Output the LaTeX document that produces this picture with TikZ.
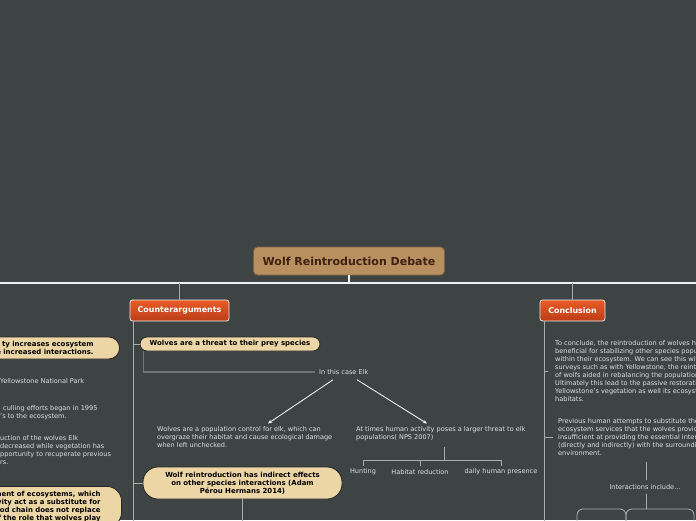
\documentclass[tikz,border=0pt]{standalone}
\usepackage{fontspec}
\setmainfont{DejaVu Sans}
\usepackage{xcolor}
\usepackage{tikz}
\usetikzlibrary{calc, positioning, arrows.meta}

\definecolor{bgdark}{RGB}{62,68,68}
\definecolor{titlefill}{RGB}{184,144,96}
\definecolor{titleline}{RGB}{125,96,62}
\definecolor{titletext}{RGB}{64,32,16}
\definecolor{topictop}{RGB}{232,92,38}
\definecolor{topicbottom}{RGB}{188,60,24}
\definecolor{pillfill}{RGB}{236,214,166}
\definecolor{notegray}{RGB}{222,224,224}
\definecolor{branchgray}{RGB}{168,172,172}
\definecolor{elkgray}{RGB}{112,118,118}

\newcommand\notefont{\fontsize{6.55}{8}\selectfont}
\newcommand\pillfont{\fontsize{6.95}{8}\selectfont\bfseries}

\begin{document}
\begin{tikzpicture}[x=1pt, y=-1pt,
		note/.style = {text=notegray, font=\notefont, inner sep=0pt, align=left},
		pill/.style = {draw=black!85, fill=pillfill, line width=0.8pt, font=\pillfont, text=black, align=center, inner sep=0pt},
		topic/.style = {draw=white!85!gray, line width=0.8pt, top color=topictop, bottom color=topicbottom, rounded corners=2.5pt, font=\fontsize{7.9}{9}\selectfont\bfseries, text=white, minimum height=21pt, inner sep=0pt},
		branch/.style = {draw=branchgray, line width=0.8pt},
		mainline/.style = {draw=white!88!gray, line width=1.3pt}]
		\def\W{696};
		\def\H{520};
		
		\useasboundingbox (0,0) rectangle (\W,\H);
		\fill[bgdark] (0,0) rectangle (\W,\H);
		\clip (0,0) rectangle (\W,\H);
		
		\coordinate (main west) at (0,283);
		\coordinate (main east) at (\W,283);
		\coordinate (counter spine) at (133,530);
		\coordinate (concl spine) at (544,530);
		\coordinate (fork top) at (444,447);
		\coordinate (fork) at (444,459.5);
		\coordinate (int top) at (646,462);
		\coordinate (int fork) at (646,509);
		
		\node[draw=titleline, fill=titlefill, line width=0.8pt, rounded corners=4pt, minimum width=191pt, minimum height=28pt, inner sep=0pt, text=titletext, font=\fontsize{11}{12}\selectfont\bfseries] (title) at (349,261) {Wolf Reintroduction Debate};
		
		\draw[mainline] (main west) -- (main east);
		\draw[mainline] (title.south) -- (title.south |- main west);
		
		\node[topic, minimum width=99pt] (counter) at (179.5,310.5) {Counterarguments};
		\node[topic, minimum width=65pt] (concl) at (572.5,310.5) {Conclusion};
		
		\begin{scope}[branch]
			\draw (counter.north) -- (counter.north |- main west);
			\draw (concl.north) -- (concl.north |- main west);
		\end{scope}
		
		% counterarguments side
		\node[pill, rounded corners=7pt, minimum width=180pt, minimum height=14pt] (threat) at (230,344) {Wolves are a threat to their prey species};
		\node[note, anchor=west] (elk) at (319,372) {In this case Elk};
		\draw[elkgray, line width=1.6pt] ([xshift=4]threat.south west) |- ([xshift=-4]elk.west);
		
		\node[note, anchor=north west] (control) at (157,426.5) {Wolves are a population control for elk, which can\\overgraze their habitat and cause ecological damage\\when left unchecked.};
		\node[note, anchor=north west] (human) at (356,426.5) {At times human activity poses a larger threat to elk\\populations( NPS 2007)};
		
		\begin{scope}[-{Stealth[length=4pt, width=3.5pt]}, white, line width=0.8pt]
			\draw ([xshift=14, yshift=-5]elk.south west) -- ([xshift=111, yshift=3]control.north west);
			\draw ([xshift=38, yshift=-5]elk.south west) -- ([xshift=71, yshift=3]human.north west);
		\end{scope}
		
		\node[note] (hunting) at (363,472) {Hunting};
		\node[note] (habitat) at (420,472) {Habitat reduction};
		\node[note] (presence) at (501,472) {daily human presence};
		
		\begin{scope}[branch]
			\draw (fork top) -- (fork);
			\draw ([yshift=3]hunting.north) -- ([yshift=8.5]hunting.north) -- ([yshift=8.5]presence.north) -- ([yshift=3]presence.north);
			\draw ([yshift=3]habitat.north) -- ([yshift=8.5]habitat.north);
		\end{scope}
		
		\node[pill, rounded corners=15pt, minimum width=199pt, minimum height=32pt] (effects) at (242.5,483) {Wolf reintroduction has indirect effects\\on other species interactions (Adam\\Pérou Hermans 2014)};
		
		\begin{scope}[branch]
			\draw (counter.south -| counter spine) -- (counter spine);
			\draw (threat.west -| counter spine) -- (threat.west);
			\draw (effects.west -| counter spine) -- (effects.west);
			\draw (effects.south) -- (effects.south |- counter spine);
		\end{scope}
		
		% left side, cut by the frame
		\node[pill, rounded corners=11pt, anchor=east, text width=150pt, align=right, inner xsep=26pt, minimum height=22pt] (stability) at (120,348) {ty increases ecosystem\\e increased interactions.};
		\node[note, anchor=west] (park) at (0,381) {Yellowstone National Park};
		\node[note, anchor=north west] (culling) at (0,405.5) {\hspace{3pt}culling efforts began in 1995\\’s to the ecosystem.};
		\node[note, anchor=north west] (elk drop) at (0,435.5) {uction of the wolves Elk\\decreased while vegetation has\\pportunity to recuperate previous\\rs.};
		\node[pill, rounded corners=15pt, anchor=north east, text width=150pt, align=right, inner xsep=21pt, inner ysep=5pt] (substitute) at (122,486) {ment of ecosystems, which\\vity act as a substitute for\\od chain does not replace\\f the role that wolves play\\};
		
		% conclusion side
		\node[note, anchor=west] (summary) at (555,371) {To conclude, the reintroduction of wolves has been\\beneficial for stabilizing other species populations\\within their ecosystem. We can see this with the\\surveys such as with Yellowstone, the reintroduction\\of wolfs aided in rebalancing the population of elk.\\Ultimately this lead to the passive restoration of\\Yellowstone’s vegetation as well its ecosystem\\habitats.};
		\node[note, anchor=west] (attempts) at (558,437) {Previous human attempts to substitute the\\ecosystem services that the wolves provide were\\insufficient at providing the essential interactions\\(directly and indirectly) with the surrounding\\environment.};
		\node[note] (inter) at (645,487) {Interactions include...};
		
		\begin{scope}[branch]
			\draw (concl.south -| concl spine) -- (concl spine);
			\draw (summary.west -| concl spine) -- ([xshift=-7]summary.west);
			\draw (attempts.west -| concl spine) -- ([xshift=-5]attempts.west);
			\draw (int top) -- ([yshift=4]inter.north -| int top);
			\draw ([yshift=-4]inter.south -| int fork) -- (int fork);
			\draw[rounded corners=6pt] (577,525) -- (577,509) -- (626,509) -- (626,525);
			\draw[rounded corners=6pt] (626,525) -- (626,509) -- (694,509) -- (694,525);
		\end{scope}
	\end{tikzpicture}
\end{document}
